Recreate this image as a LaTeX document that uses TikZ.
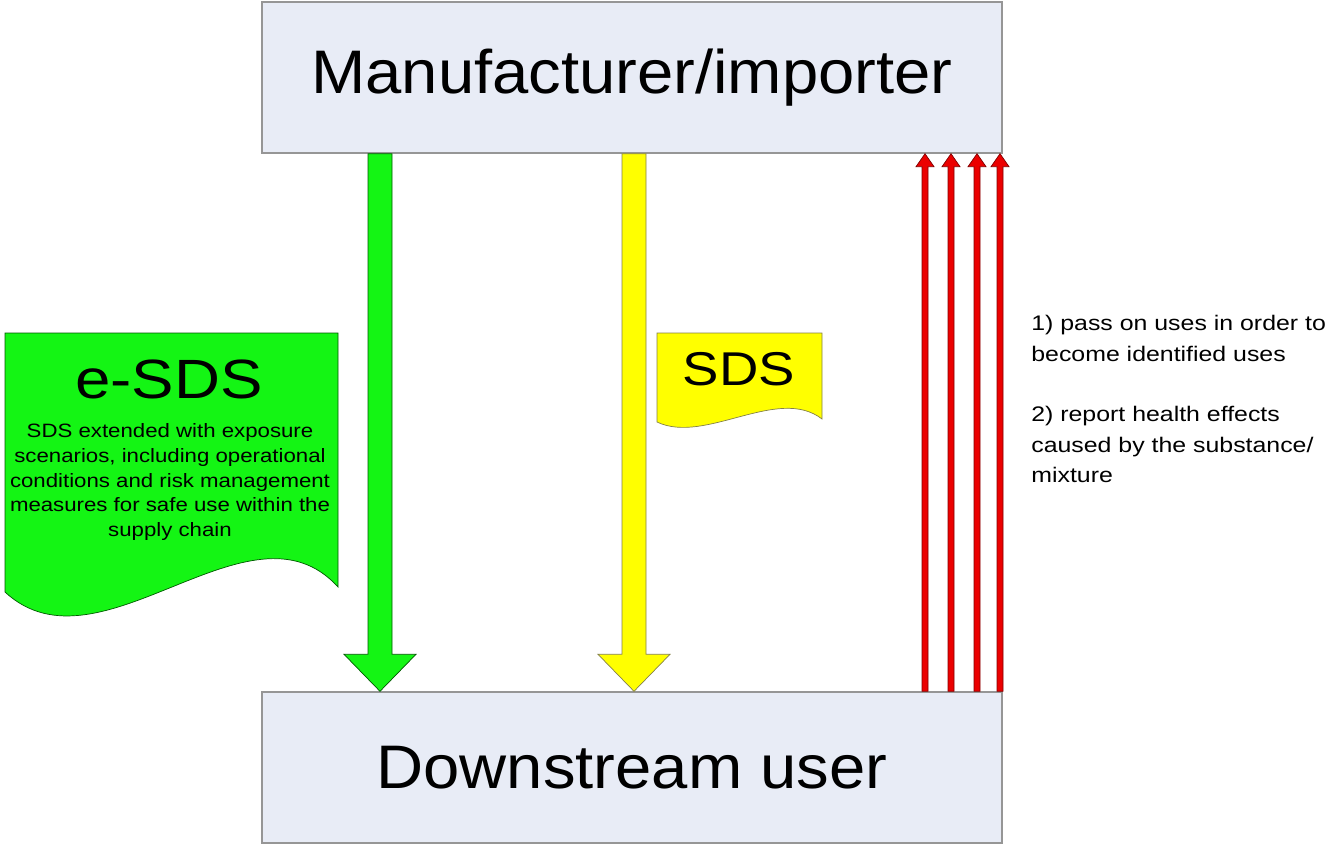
\documentclass[tikz,border=0pt]{standalone}
\usepackage{fontspec}
\setmainfont{Liberation Sans}
\newfontfamily\widesans[FakeStretch=1.15]{Liberation Sans}
\newfontfamily\notesans[FakeStretch=1.18]{Liberation Sans}
\newfontfamily\boxsans[FakeStretch=1.06]{Liberation Sans}
\usetikzlibrary{calc}
\definecolor{boxfill}{RGB}{232,236,246}
\definecolor{boxline}{RGB}{150,150,150}
\definecolor{esdsgreen}{RGB}{20,245,20}
\definecolor{sdsyellow}{RGB}{255,255,0}
\definecolor{usesred}{RGB}{235,0,0}
\begin{document}
\begin{tikzpicture}[x=0.02cm,y=-0.02cm,
	box/.style={draw=boxline,fill=boxfill,line width=0.8pt,minimum width=14.8cm,minimum height=3.02cm,inner sep=0pt,font=\boxsans\fontsize{35}{40}\selectfont},
	greenblock/.style={fill=esdsgreen,draw=green!35!black,line width=0.4pt},
	yellowblock/.style={fill=sdsyellow,draw=yellow!45!black,line width=0.4pt},
	redblock/.style={fill=usesred,draw=red!50!black,line width=0.4pt}]
	\useasboundingbox (0,0) rectangle (1332,845);
	% the two parties
	\node[box] (mfr) at (632,77.5) {Manufacturer/importer};
	\node[box] (dsu) at (632,767.5) {Downstream user};
	% down the chain
	\coordinate (gx) at (380,0);
	\coordinate (yx) at (634,0);
	\filldraw[greenblock] ($(mfr.south -| gx)+(-12,0)$) -- ($(dsu.north -| gx)+(-12,-37)$) -- ($(dsu.north -| gx)+(-36,-37)$)
		-- (dsu.north -| gx) -- ($(dsu.north -| gx)+(36,-37)$) -- ($(dsu.north -| gx)+(12,-37)$) -- ($(mfr.south -| gx)+(12,0)$) -- cycle;
	\filldraw[yellowblock] ($(mfr.south -| yx)+(-12,0)$) -- ($(dsu.north -| yx)+(-12,-37)$) -- ($(dsu.north -| yx)+(-36,-37)$)
		-- (dsu.north -| yx) -- ($(dsu.north -| yx)+(36,-37)$) -- ($(dsu.north -| yx)+(12,-37)$) -- ($(mfr.south -| yx)+(12,0)$) -- cycle;
	% up the chain
	\foreach \rx in {925,951,977,1000} {
		\coordinate (rx) at (\rx,0);
		\filldraw[redblock] ($(dsu.north -| rx)+(-3,0)$) -- ($(mfr.south -| rx)+(-3,13)$) -- ($(mfr.south -| rx)+(-9,13)$)
			-- (mfr.south -| rx) -- ($(mfr.south -| rx)+(9,13)$) -- ($(mfr.south -| rx)+(3,13)$) -- ($(dsu.north -| rx)+(3,0)$) -- cycle;
	}
	% documents
	\filldraw[greenblock] (5,333) -- (338,333) -- (338,587) .. controls (250,490) and (100,680) .. (5,592) -- cycle;
	\node (esds) at (169,379) {\widesans\fontsize{31.5}{34}\selectfont e-SDS};
	\node[align=center,font=\widesans\fontsize{11}{14.2}\selectfont] (esdstext) at (170,482) {SDS extended with exposure\\scenarios, including operational\\conditions and risk management\\measures for safe use within the\\supply chain};
	\filldraw[yellowblock] (657,333) -- (822,333) -- (822,419) .. controls (778,385) and (705,445) .. (657,422) -- cycle;
	\node (sds) at (739,369) {\widesans\fontsize{27}{30}\selectfont SDS};
	% what goes back up
	\node[anchor=north west,align=left,inner sep=0pt,font=\notesans\fontsize{12}{17.3}\selectfont] (uses) at (1031,315)
		{1) pass on uses in order to\\become identified uses\\[17.3pt]2) report health effects\\caused by the substance/\\mixture};
\end{tikzpicture}
\end{document}
